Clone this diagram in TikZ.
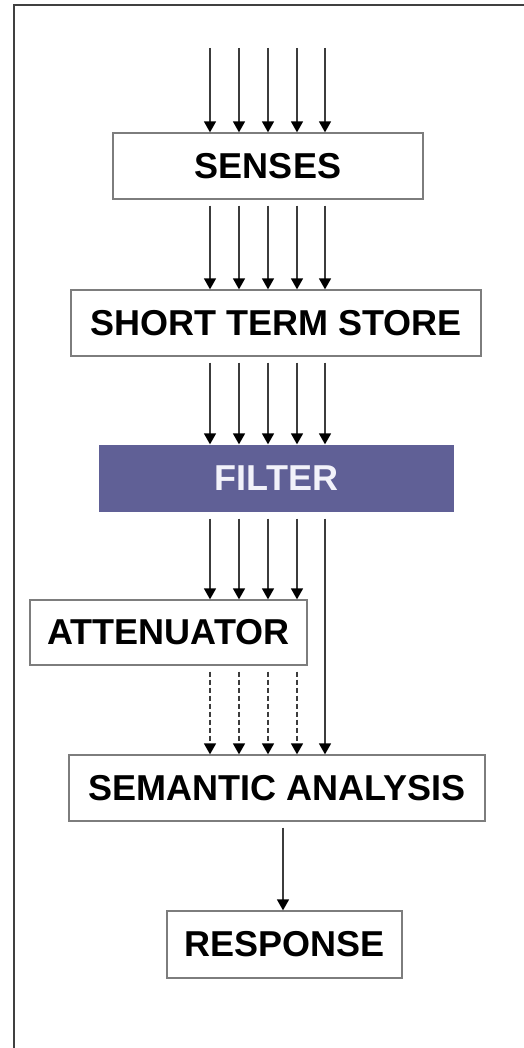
\documentclass[tikz,border=0pt]{standalone}
\usepackage{fontspec}
\setmainfont{Liberation Sans}
\usetikzlibrary{arrows.meta}
\definecolor{filt}{RGB}{96,96,150}
\definecolor{edgegray}{RGB}{125,125,125}
\definecolor{arrgray}{RGB}{60,60,60}
\definecolor{filttext}{RGB}{242,242,250}
\begin{document}
\begin{tikzpicture}[x=1pt,y=-1pt,
  box/.style={draw=edgegray, line width=1.3pt, fill=white, inner sep=0pt,
    font=\fontsize{36}{40}\selectfont\bfseries, text=black},
  flow/.style={draw=arrgray, line width=1.6pt,
    -{Triangle[length=11pt,width=12pt,color=black]}},
  gapped/.style={shorten <=6pt},
  dashflow/.style={flow, dash pattern=on 5pt off 3pt}]
\useasboundingbox (0,0) rectangle (524,1048);
\draw[line width=2pt, draw=black!75] (524,5) -- (14,5) -- (14,1048);

\node[box, minimum width=310pt, minimum height=66pt] (sen) at (268,166) {SENSES};
\node[box, minimum width=410pt, minimum height=66pt] (sts) at (276,323) {SHORT TERM STORE};
\node[box, draw=none, fill=filt, text=filttext, minimum width=355pt, minimum height=67pt] (fil) at (276.5,478.5) {FILTER};
\node[box, minimum width=277pt, minimum height=65pt] (att) at (168.5,632.5) {ATTENUATOR};
\node[box, minimum width=416pt, minimum height=66pt] (sem) at (277,788) {SEMANTIC ANALYSIS};
\node[box, minimum width=235pt, minimum height=67pt] (res) at (284.5,944.5) {RESPONSE};

\foreach \i/\xx in {1/210,2/239,3/268,4/297,5/325}{
  \coordinate (in\i) at (\xx,48);
  \draw[flow] (in\i) -- (\xx,0 |- sen.north);
  \draw[flow, gapped] (\xx,0 |- sen.south) -- (\xx,0 |- sts.north);
  \draw[flow, gapped] (\xx,0 |- sts.south) -- (\xx,0 |- fil.north);
}
\foreach \xx in {210,239,268,297}{
  \draw[flow, gapped] (\xx,0 |- fil.south) -- (\xx,0 |- att.north);
  \draw[dashflow, gapped] (\xx,0 |- att.south) -- (\xx,0 |- sem.north);
}
\draw[flow, gapped] (325,0 |- fil.south) -- (325,0 |- sem.north);
\draw[flow, gapped] (283,0 |- sem.south) -- (283,0 |- res.north);
\end{tikzpicture}
\end{document}
